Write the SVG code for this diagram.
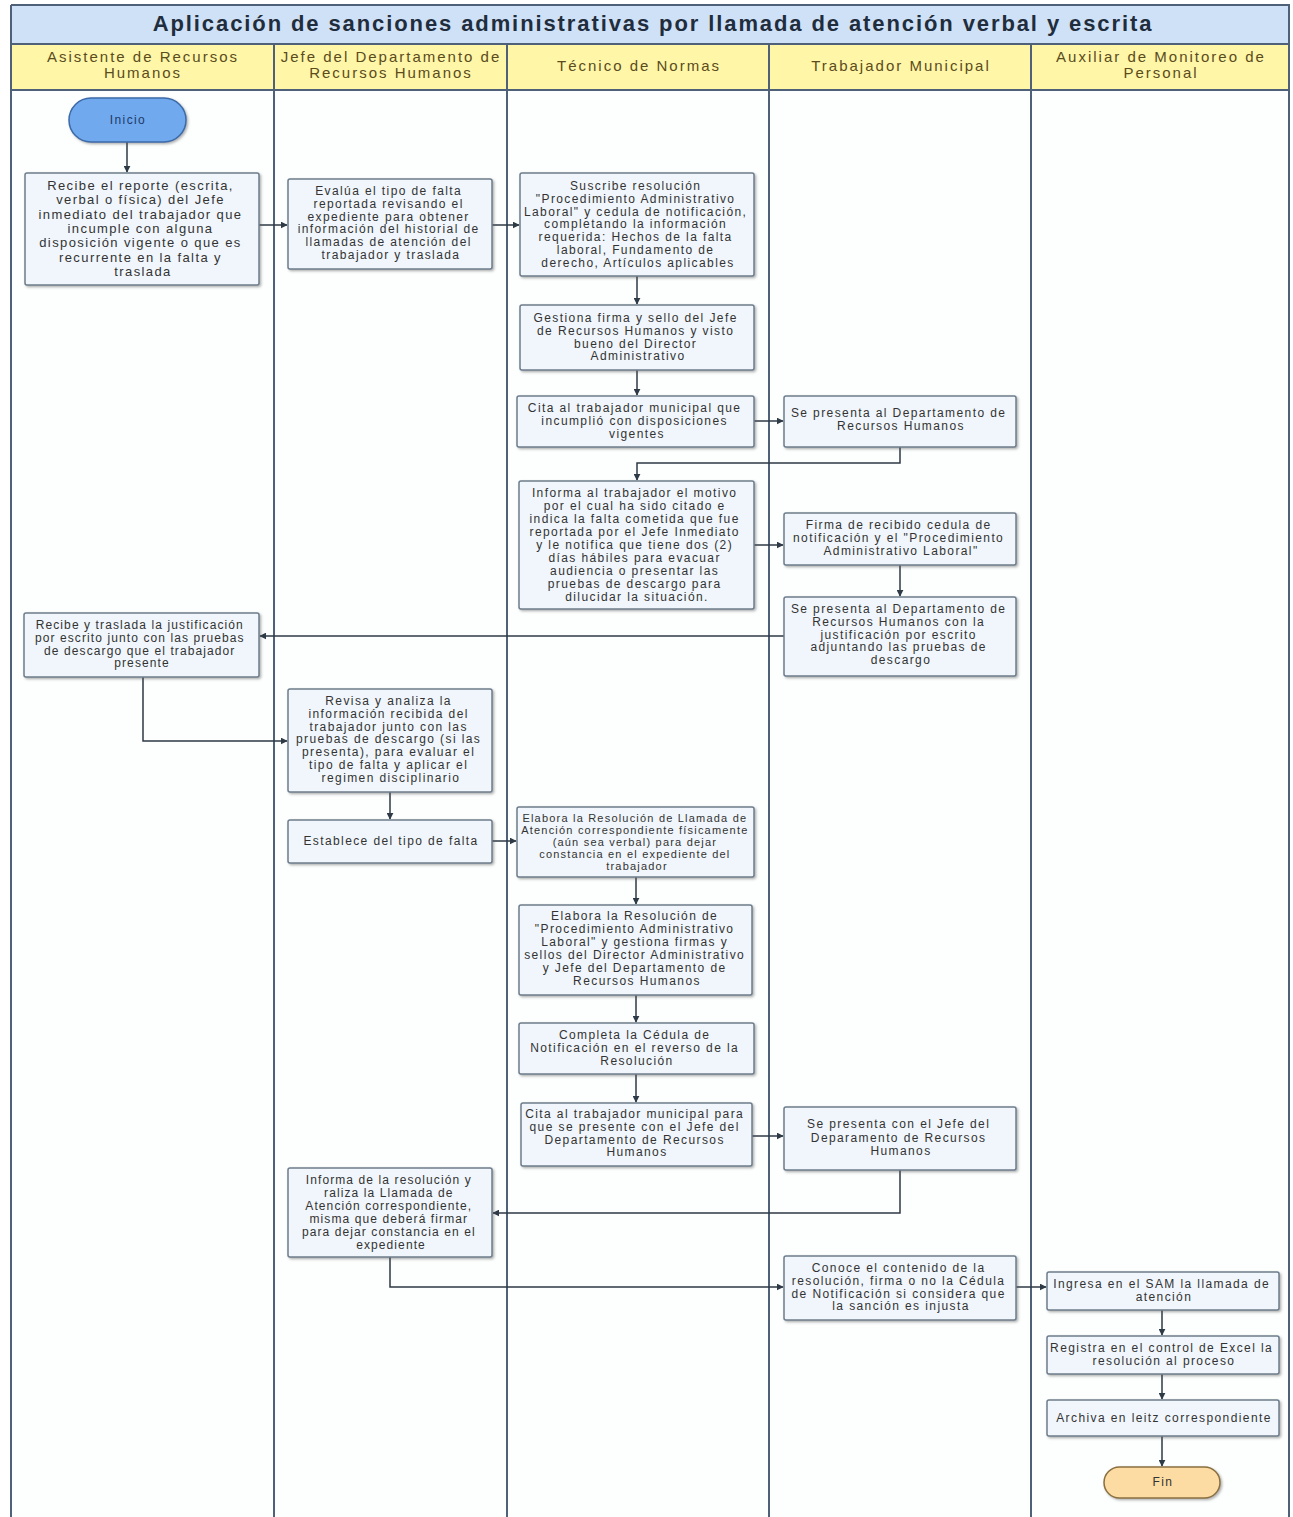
<svg xmlns="http://www.w3.org/2000/svg" width="1293" height="1517" viewBox="0 0 1293 1517">
<style>
.lane{fill:#fdfefe;stroke:none}
.ln{stroke:#4e6178;stroke-width:2;fill:none}
.box{fill:#f0f6fb;stroke:#6d7d8c;stroke-width:1.5;filter:url(#sh)}
.t{font-family:"Liberation Sans",Arial,sans-serif;font-size:12px;letter-spacing:1.4px;fill:#333;text-anchor:middle}
.hd{font-family:"Liberation Sans",Arial,sans-serif;font-size:15px;letter-spacing:2px;fill:#5a4c1c;text-anchor:middle}
.ttl{font-family:"Liberation Sans",Arial,sans-serif;font-size:22px;letter-spacing:1.9px;font-weight:bold;fill:#1f2d3d;text-anchor:middle}
.c{stroke:#2e3a46;stroke-width:1.5;fill:none;marker-end:url(#ah)}
</style>
<defs>
<marker id="ah" viewBox="0 0 10 10" refX="9" refY="5" markerWidth="7" markerHeight="7" orient="auto" markerUnits="userSpaceOnUse"><path d="M0,0 L10,5 L0,10 z" fill="#2e3a46"/></marker>
<filter id="sh" x="-5%" y="-5%" width="115%" height="120%"><feDropShadow dx="1.5" dy="1.5" stdDeviation="1" flood-color="#555" flood-opacity="0.45"/></filter>
</defs>
<rect x="0" y="0" width="1293" height="1517" fill="#ffffff"/>
<g id="frame">
<rect x="11" y="5" width="1279" height="1520" class="lane"/>
<rect x="11" y="5" width="1279" height="39" fill="#cfe1f6"/>
<rect x="11" y="44" width="1279" height="46" fill="#fff6a8"/>
<line x1="11" y1="44" x2="1290" y2="44" class="ln"/>
<line x1="11" y1="90" x2="1290" y2="90" class="ln"/>
<line x1="11" y1="5" x2="1290" y2="5" class="ln" stroke-width="1.5"/>
<line x1="11" y1="5" x2="11" y2="1517" class="ln"/>
<line x1="1289" y1="5" x2="1289" y2="1517" class="ln" stroke="#9fb0c0"/>
<line x1="274" y1="44" x2="274" y2="1517" class="ln"/>
<line x1="507" y1="44" x2="507" y2="1517" class="ln"/>
<line x1="769" y1="44" x2="769" y2="1517" class="ln"/>
<line x1="1031" y1="44" x2="1031" y2="1517" class="ln"/>
<text class="ttl" x="653" y="31">Aplicación de sanciones administrativas por llamada de atención verbal y escrita</text>
<text class="hd" x="143" y="62">Asistente de Recursos</text>
<text class="hd" x="143" y="78">Humanos</text>
<text class="hd" x="391" y="62">Jefe del Departamento de</text>
<text class="hd" x="391" y="78">Recursos Humanos</text>
<text class="hd" x="639" y="71">Técnico de Normas</text>
<text class="hd" x="901" y="71">Trabajador Municipal</text>
<text class="hd" x="1161" y="62">Auxiliar de Monitoreo de</text>
<text class="hd" x="1161" y="78">Personal</text>
</g>
<g id="connectors">
<path class="c" d="M127,142 V172"/>
<path class="c" d="M259,225 H287"/>
<path class="c" d="M492,225 H519"/>
<path class="c" d="M637,276 V304"/>
<path class="c" d="M637,370 V395"/>
<path class="c" d="M754,421 H783"/>
<path class="c" d="M900,447 V463 H637 V480"/>
<path class="c" d="M754,545 H783"/>
<path class="c" d="M900,565 V596"/>
<path class="c" d="M784,636 H260"/>
<path class="c" d="M143,677 V741 H287"/>
<path class="c" d="M390,792 V819"/>
<path class="c" d="M492,841 H516"/>
<path class="c" d="M636,877 V904"/>
<path class="c" d="M636,995 V1022"/>
<path class="c" d="M636,1074 V1102"/>
<path class="c" d="M752,1136 H783"/>
<path class="c" d="M900,1170 V1213 H493"/>
<path class="c" d="M390,1257 V1287 H783"/>
<path class="c" d="M1016,1287 H1046"/>
<path class="c" d="M1162,1310 V1335"/>
<path class="c" d="M1162,1374 V1399"/>
<path class="c" d="M1162,1436 V1466"/>
</g>
<g id="inicio">
<rect x="69" y="98" width="117" height="44" rx="22" fill="#6fa9ee" stroke="#3c6aa8" stroke-width="1.5" filter="url(#sh)"/>
<text class="t" x="128" y="124" style="fill:#1f3a66">Inicio</text>
</g>
<g id="n_recibe_reporte">
<rect class="box" x="25" y="173" width="234" height="112" rx="2"/>
<text class="t" x="143" y="190" style="font-size:13px">
<tspan x="143">Recibe el reporte (escrita,</tspan>
<tspan x="143" dy="14.3">verbal o física) del Jefe</tspan>
<tspan x="143" dy="14.3">inmediato del trabajador que</tspan>
<tspan x="143" dy="14.3">incumple con alguna</tspan>
<tspan x="143" dy="14.3">disposición vigente o que es</tspan>
<tspan x="143" dy="14.3">recurrente en la falta y</tspan>
<tspan x="143" dy="14.3">traslada</tspan>
</text>
</g>
<g id="n_evalua">
<rect class="box" x="288" y="179" width="204" height="90" rx="2"/>
<text class="t" x="391" y="195">
<tspan x="391">Evalúa el tipo de falta</tspan>
<tspan x="391" dy="12.8">reportada revisando el</tspan>
<tspan x="391" dy="12.8">expediente para obtener</tspan>
<tspan x="391" dy="12.8">información del historial de</tspan>
<tspan x="391" dy="12.8">llamadas de atención del</tspan>
<tspan x="391" dy="12.8">trabajador y traslada</tspan>
</text>
</g>
<g id="n_suscribe">
<rect class="box" x="520" y="173" width="234" height="103" rx="2"/>
<text class="t" x="638" y="190">
<tspan x="638">Suscribe resolución</tspan>
<tspan x="638" dy="12.8">"Procedimiento Administrativo</tspan>
<tspan x="638" dy="12.8">Laboral" y cedula de notificación,</tspan>
<tspan x="638" dy="12.8">completando la información</tspan>
<tspan x="638" dy="12.8">requerida: Hechos de la falta</tspan>
<tspan x="638" dy="12.8">laboral, Fundamento de</tspan>
<tspan x="638" dy="12.8">derecho, Artículos aplicables</tspan>
</text>
</g>
<g id="n_gestiona">
<rect class="box" x="520" y="305" width="234" height="65" rx="2"/>
<text class="t" x="638" y="322">
<tspan x="638">Gestiona firma y sello del Jefe</tspan>
<tspan x="638" dy="12.8">de Recursos Humanos y visto</tspan>
<tspan x="638" dy="12.8">bueno del Director</tspan>
<tspan x="638" dy="12.8">Administrativo</tspan>
</text>
</g>
<g id="n_cita1">
<rect class="box" x="517" y="396" width="237" height="51" rx="2"/>
<text class="t" x="637" y="412">
<tspan x="637">Cita al trabajador municipal que</tspan>
<tspan x="637" dy="12.8">incumplió con disposiciones</tspan>
<tspan x="637" dy="12.8">vigentes</tspan>
</text>
</g>
<g id="n_presenta1">
<rect class="box" x="784" y="396" width="232" height="51" rx="2"/>
<text class="t" x="901" y="417">
<tspan x="901">Se presenta al Departamento de</tspan>
<tspan x="901" dy="13">Recursos Humanos</tspan>
</text>
</g>
<g id="n_informa_trab">
<rect class="box" x="519" y="481" width="235" height="128" rx="2"/>
<text class="t" x="637" y="497">
<tspan x="637">Informa al trabajador el motivo</tspan>
<tspan x="637" dy="13">por el cual ha sido citado e</tspan>
<tspan x="637" dy="13">indica la falta cometida que fue</tspan>
<tspan x="637" dy="13">reportada por el Jefe Inmediato</tspan>
<tspan x="637" dy="13">y le notifica que tiene dos (2)</tspan>
<tspan x="637" dy="13">días hábiles para evacuar</tspan>
<tspan x="637" dy="13">audiencia o presentar las</tspan>
<tspan x="637" dy="13">pruebas de descargo para</tspan>
<tspan x="637" dy="13">dilucidar la situación.</tspan>
</text>
</g>
<g id="n_firma">
<rect class="box" x="784" y="513" width="232" height="52" rx="2"/>
<text class="t" x="901" y="529">
<tspan x="901">Firma de recibido cedula de</tspan>
<tspan x="901" dy="12.8">notificación y el "Procedimiento</tspan>
<tspan x="901" dy="12.8">Administrativo Laboral"</tspan>
</text>
</g>
<g id="n_presenta2">
<rect class="box" x="784" y="597" width="232" height="79" rx="2"/>
<text class="t" x="901" y="613">
<tspan x="901">Se presenta al Departamento de</tspan>
<tspan x="901" dy="12.8">Recursos Humanos con la</tspan>
<tspan x="901" dy="12.8">justificación por escrito</tspan>
<tspan x="901" dy="12.8">adjuntando las pruebas de</tspan>
<tspan x="901" dy="12.8">descargo</tspan>
</text>
</g>
<g id="n_recibe_traslada">
<rect class="box" x="24" y="613" width="235" height="64" rx="2"/>
<text class="t" x="142" y="629" style="letter-spacing:1.1px">
<tspan x="142">Recibe y traslada la justificación</tspan>
<tspan x="142" dy="12.8">por escrito junto con las pruebas</tspan>
<tspan x="142" dy="12.8">de descargo que el trabajador</tspan>
<tspan x="142" dy="12.8">presente</tspan>
</text>
</g>
<g id="n_revisa">
<rect class="box" x="288" y="689" width="204" height="103" rx="2"/>
<text class="t" x="391" y="705">
<tspan x="391">Revisa y analiza la</tspan>
<tspan x="391" dy="12.8">información recibida del</tspan>
<tspan x="391" dy="12.8">trabajador junto con las</tspan>
<tspan x="391" dy="12.8">pruebas de descargo (si las</tspan>
<tspan x="391" dy="12.8">presenta), para evaluar el</tspan>
<tspan x="391" dy="12.8">tipo de falta y aplicar el</tspan>
<tspan x="391" dy="12.8">regimen disciplinario</tspan>
</text>
</g>
<g id="n_establece">
<rect class="box" x="288" y="820" width="204" height="43" rx="2"/>
<text class="t" x="391" y="845">Establece del tipo de falta</text>
</g>
<g id="n_elabora_llamada">
<rect class="box" x="517" y="807" width="237" height="70" rx="2"/>
<text class="t" x="637" y="822" style="font-size:11px;letter-spacing:1.2px">
<tspan x="637">Elabora la Resolución de Llamada de</tspan>
<tspan x="637" dy="12">Atención correspondiente físicamente</tspan>
<tspan x="637" dy="12">(aún sea verbal) para dejar</tspan>
<tspan x="637" dy="12">constancia en el expediente del</tspan>
<tspan x="637" dy="12">trabajador</tspan>
</text>
</g>
<g id="n_elabora_proc">
<rect class="box" x="519" y="905" width="233" height="90" rx="2"/>
<text class="t" x="637" y="920">
<tspan x="637">Elabora la Resolución de</tspan>
<tspan x="637" dy="13">"Procedimiento Administrativo</tspan>
<tspan x="637" dy="13">Laboral" y gestiona firmas y</tspan>
<tspan x="637" dy="13">sellos del Director Administrativo</tspan>
<tspan x="637" dy="13">y Jefe del Departamento de</tspan>
<tspan x="637" dy="13">Recursos Humanos</tspan>
</text>
</g>
<g id="n_completa">
<rect class="box" x="519" y="1023" width="235" height="51" rx="2"/>
<text class="t" x="637" y="1039">
<tspan x="637">Completa la Cédula de</tspan>
<tspan x="637" dy="12.8">Notificación en el reverso de la</tspan>
<tspan x="637" dy="12.8">Resolución</tspan>
</text>
</g>
<g id="n_cita2">
<rect class="box" x="521" y="1103" width="231" height="63" rx="2"/>
<text class="t" x="637" y="1118">
<tspan x="637">Cita al trabajador municipal para</tspan>
<tspan x="637" dy="12.8">que se presente con el Jefe del</tspan>
<tspan x="637" dy="12.8">Departamento de Recursos</tspan>
<tspan x="637" dy="12.8">Humanos</tspan>
</text>
</g>
<g id="n_presenta3">
<rect class="box" x="784" y="1107" width="232" height="63" rx="2"/>
<text class="t" x="901" y="1128">
<tspan x="901">Se presenta con el Jefe del</tspan>
<tspan x="901" dy="13.5">Deparamento de Recursos</tspan>
<tspan x="901" dy="13.5">Humanos</tspan>
</text>
</g>
<g id="n_informa_res">
<rect class="box" x="288" y="1168" width="204" height="89" rx="2"/>
<text class="t" x="391" y="1184" style="letter-spacing:1.1px">
<tspan x="391">Informa de la resolución  y</tspan>
<tspan x="391" dy="13">raliza la Llamada de</tspan>
<tspan x="391" dy="13">Atención correspondiente,</tspan>
<tspan x="391" dy="13">misma que deberá firmar</tspan>
<tspan x="391" dy="13">para dejar constancia en el</tspan>
<tspan x="391" dy="13">expediente</tspan>
</text>
</g>
<g id="n_conoce">
<rect class="box" x="784" y="1256" width="232" height="64" rx="2"/>
<text class="t" x="901" y="1272">
<tspan x="901">Conoce el contenido de la</tspan>
<tspan x="901" dy="12.8">resolución, firma o no la Cédula</tspan>
<tspan x="901" dy="12.8">de Notificación si considera que</tspan>
<tspan x="901" dy="12.8">la sanción es injusta</tspan>
</text>
</g>
<g id="n_ingresa">
<rect class="box" x="1047" y="1272" width="232" height="38" rx="2"/>
<text class="t" x="1164" y="1288">
<tspan x="1164">Ingresa en el SAM la llamada de</tspan>
<tspan x="1164" dy="12.8">atención</tspan>
</text>
</g>
<g id="n_registra">
<rect class="box" x="1047" y="1336" width="232" height="38" rx="2"/>
<text class="t" x="1164" y="1352">
<tspan x="1164">Registra en el control de Excel la</tspan>
<tspan x="1164" dy="12.8">resolución al proceso</tspan>
</text>
</g>
<g id="n_archiva">
<rect class="box" x="1047" y="1400" width="232" height="36" rx="2"/>
<text class="t" x="1164" y="1422">Archiva en leitz correspondiente</text>
</g>
<g id="fin">
<rect x="1104" y="1467" width="116" height="31" rx="15.5" fill="#fcdca2" stroke="#8a7040" stroke-width="1.5" filter="url(#sh)"/>
<text class="t" x="1163" y="1486">Fin</text>
</g>
</svg>
